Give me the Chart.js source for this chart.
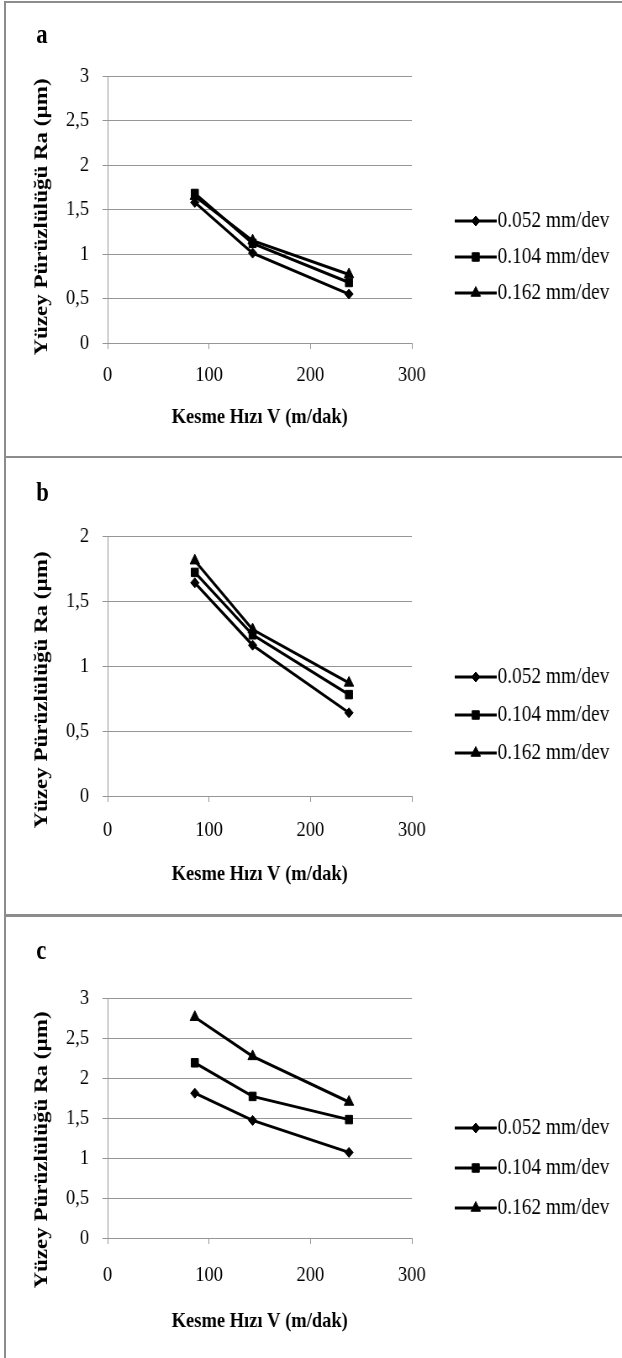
<!DOCTYPE html>
<html>
<head>
<meta charset="utf-8">
<script src="https://cdn.jsdelivr.net/npm/chart.js@4.4.1/dist/chart.umd.min.js"></script>
<style>
  body { margin: 0; background: #fff; width: 622px; height: 1358px; position: relative; overflow: hidden; }
  /* the source figure is squeezed sideways; draw wider and scale back */
  #sheet { position: absolute; left: 0; top: 0; width: 740px; height: 1358px; transform: scaleX(0.8405); transform-origin: 0 0; }
  canvas { position: absolute; left: 0; }
  .tag { position: absolute; left: 43px; font: bold 27px 'Liberation Serif', serif; color: #000; line-height: 1; }
  .frame { position: absolute; background: #8c8c8c; }
</style>
</head>
<body>
<div id="sheet">
  <canvas id="chart-a" width="740" height="457" style="top:0"></canvas>
  <canvas id="chart-b" width="740" height="458" style="top:457px"></canvas>
  <canvas id="chart-c" width="740" height="443" style="top:915px"></canvas>
  <div class="tag" style="top:21px">a</div>
  <div class="tag" style="top:479px">b</div>
  <div class="tag" style="top:937px">c</div>
</div>

<div class="frame" style="left:4px;top:1px;width:2px;height:1357px"></div>
<div class="frame" style="left:4px;top:1px;width:618px;height:2px"></div>
<div class="frame" style="left:4px;top:456px;width:618px;height:2px"></div>
<div class="frame" style="left:4px;top:914px;width:618px;height:3px"></div>

<script>
// Kesme hızı (m/dak) ve ilerleme değerleri
const speeds = [86, 143, 238];
const feedLabels = ['0.052 mm/dev', '0.104 mm/dev', '0.162 mm/dev'];

// Panel a - Ra (µm)
const raA052 = [1.58, 1.01, 0.55];
const raA104 = [1.68, 1.12, 0.68];
const raA162 = [1.65, 1.15, 0.77];

// Panel b
const raB052 = [1.64, 1.16, 0.64];
const raB104 = [1.72, 1.24, 0.78];
const raB162 = [1.81, 1.28, 0.87];

// Panel c
const raC052 = [1.81, 1.47, 1.07];
const raC104 = [2.19, 1.77, 1.48];
const raC162 = [2.76, 2.27, 1.70];

const xMax = 300, xStep = 100;
const yMaxA = 3, yMaxB = 2, yMaxC = 3, yStep = 0.5;

const FONT = "'Liberation Serif', 'Times New Roman', serif";
const GRID = '#969696';
const markerStyles = ['rectRot', 'rect', 'triangle'];
const markerSizes = [5, 6, 6.5];

// legend: line with marker, then the text
const legendLines = {
    id: 'legendLines',
    afterDraw(chart, args, opts) {
        const ctx = chart.ctx;
        ctx.save();
        chart.data.datasets.forEach((ds, i) => {
            const y = opts.top + i * opts.gap;
            ctx.strokeStyle = '#000';
            ctx.lineWidth = 3;
            ctx.beginPath();
            ctx.moveTo(opts.x0, y);
            ctx.lineTo(opts.x1, y);
            ctx.stroke();
            ctx.fillStyle = '#000';
            ctx.lineWidth = 1;
            Chart.helpers.drawPoint(ctx, {
                pointStyle: ds.pointStyle, radius: ds.pointRadius, borderWidth: 1, rotation: 0
            }, (opts.x0 + opts.x1) / 2, y);
            ctx.font = '23px ' + FONT;
            ctx.textAlign = 'left';
            ctx.textBaseline = 'middle';
            ctx.fillText(ds.label, opts.x1 + 1, y);
        });
        ctx.restore();
    }
};

// y axis title, placed like the source (a little below the plot centre)
const yTitle = {
    id: 'yTitle',
    afterDraw(chart, args, opts) {
        const ctx = chart.ctx;
        ctx.save();
        ctx.translate(opts.x, opts.y);
        ctx.rotate(-Math.PI / 2);
        ctx.font = 'bold 23px ' + FONT;
        ctx.fillStyle = '#000';
        ctx.textAlign = 'center';
        ctx.textBaseline = 'middle';
        ctx.fillText('Yüzey Pürüzlülüğü Ra (µm)', 0, 0);
        ctx.restore();
    }
};

function makePanel(id, series, yMax, geo) {
    const xH = Math.round(geo.xTitle - geo.bottom + 13.2);
    new Chart(document.getElementById(id), {
        type: 'line',
        data: {
            datasets: series.map((vals, i) => ({
                label: feedLabels[i],
                data: speeds.map((x, j) => ({ x: x, y: vals[j] })),
                borderColor: '#000',
                backgroundColor: '#000',
                borderWidth: 3,
                pointStyle: markerStyles[i],
                pointRadius: markerSizes[i],
                pointBorderWidth: 1,
                tension: 0
            }))
        },
        plugins: [legendLines, yTitle],
        options: {
            responsive: false,
            animation: false,
            events: [],
            layout: {
                padding: { left: 28, right: 740 - 490, top: geo.top, bottom: geo.height - geo.bottom - xH }
            },
            plugins: {
                legend: { display: false },
                tooltip: { enabled: false },
                legendLines: { x0: 541, x1: 591, top: geo.legendTop, gap: geo.legendGap },
                yTitle: { x: 50, y: geo.yTitle }
            },
            scales: {
                x: {
                    type: 'linear',
                    min: 0,
                    max: xMax,
                    ticks: { stepSize: xStep, padding: geo.xPad, color: '#000', font: { family: FONT, size: 22 } },
                    grid: { drawOnChartArea: false, drawTicks: true, tickLength: 6, color: GRID },
                    border: { color: GRID, width: 1 },
                    title: {
                        display: true, text: 'Kesme Hızı V (m/dak)', color: '#000', padding: 0,
                        font: { family: FONT, size: 22, weight: 'bold' }
                    },
                    afterFit: s => { s.height = xH; }
                },
                y: {
                    min: 0,
                    max: yMax,
                    ticks: {
                        stepSize: yStep, padding: 16, color: '#000', font: { family: FONT, size: 22 },
                        callback: v => String(v).replace('.', ',')
                    },
                    grid: { color: GRID, tickLength: 6 },
                    border: { color: GRID, width: 1 },
                    afterFit: s => { s.width = 128 - 28; }
                }
            }
        }
    });
}

makePanel('chart-a', [raA052, raA104, raA162], yMaxA,
    { height: 457, top: 76, bottom: 343, xPad: 13, xTitle: 418, yTitle: 217, legendTop: 221, legendGap: 36 });
makePanel('chart-b', [raB052, raB104, raB162], yMaxB,
    { height: 458, top: 79, bottom: 339, xPad: 15, xTitle: 418, yTitle: 233, legendTop: 220, legendGap: 38 });
makePanel('chart-c', [raC052, raC104, raC162], yMaxC,
    { height: 443, top: 83, bottom: 323, xPad: 18, xTitle: 407, yTitle: 235, legendTop: 213, legendGap: 40 });
</script>
</body>
</html>
